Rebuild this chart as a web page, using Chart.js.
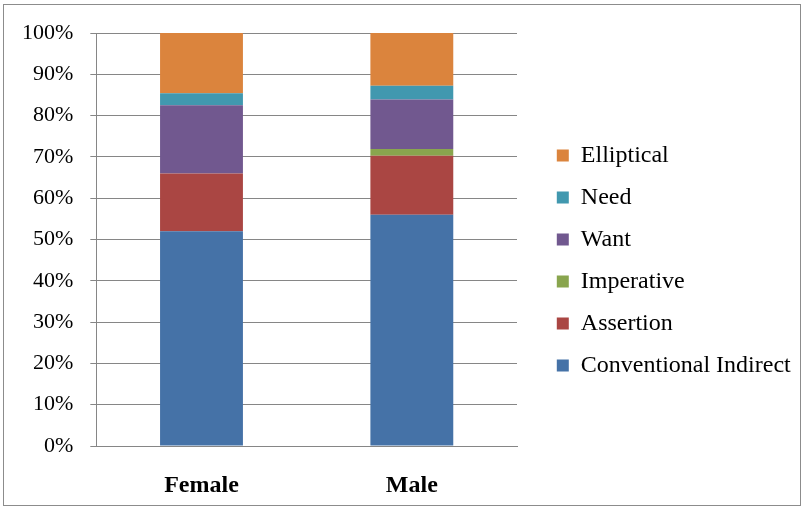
<!DOCTYPE html>
<html>
<head>
<meta charset="utf-8">
<script src="https://cdn.jsdelivr.net/npm/chart.js@4/dist/chart.umd.min.js"></script>
<style>
html,body{margin:0;padding:0;background:#fff;}
#wrap{position:relative;width:804px;height:508px;}
#frame{position:absolute;left:3px;top:4px;width:796px;height:500px;border:1px solid #8c8c8c;pointer-events:none;}
canvas{position:absolute;left:0;top:0;}
</style>
</head>
<body>
<div id="wrap">
<canvas id="c" width="804" height="508"></canvas>
<div id="frame"></div>
</div>
<script>
const categories = ["Female", "Male"];
const seriesNames = ["Conventional Indirect", "Assertion", "Imperative", "Want", "Need", "Elliptical"];
const conventionalIndirect = [52.0, 56.0];
const assertion = [14.0, 14.3];
const imperative = [0.0, 1.6];
const want = [16.5, 12.0];
const need = [2.9, 3.3];
const elliptical = [14.6, 12.8];
const yTicks = [0, 10, 20, 30, 40, 50, 60, 70, 80, 90, 100];
const colors = ["#4572A7", "#AA4643", "#89A54E", "#71588F", "#4198AF", "#DB843D"];

const values = [conventionalIndirect, assertion, imperative, want, need, elliptical];
const datasets = seriesNames.map((n, i) => ({
  label: n,
  data: values[i],
  backgroundColor: colors[i],
  borderWidth: 0,
  barPercentage: 0.394,
  categoryPercentage: 1.0
}));

const serif = "'Liberation Serif', 'Times New Roman', serif";

const legendShift = {
  id: 'legendShift',
  afterLayout(chart) {
    const lg = chart.legend;
    if (lg) { lg.top -= 10; lg.bottom -= 10; }
  }
};

const chart = new Chart(document.getElementById('c'), {
  type: 'bar',
  data: { labels: categories, datasets },
  plugins: [legendShift],
  options: {
    responsive: false,
    animation: false,
    layout: { padding: { top: 33, left: 5, right: 0, bottom: 0 } },
    plugins: {
      legend: {
        position: 'right',
        reverse: true,
        labels: {
          boxWidth: 12, boxHeight: 12,
          padding: 18,
          color: '#000',
          font: { family: serif, size: 24 }
        }
      },
      tooltip: { enabled: false }
    },
    scales: {
      x: {
        stacked: true,
        grid: { display: false, drawTicks: false },
        border: { display: true, color: '#868686', width: 1 },
        ticks: { color: '#000', padding: 29, font: { family: serif, size: 24, weight: 'bold', lineHeight: 0.9 } },
        afterFit: (s) => { s.height = 62; }
      },
      y: {
        stacked: true,
        min: 0, max: 100,
        afterBuildTicks: (s) => { s.ticks = yTicks.map(v => ({ value: v })); },
        grid: { color: '#868686', lineWidth: 1, tickLength: 6 },
        border: { display: true, color: '#868686', width: 1 },
        ticks: { color: '#000', padding: 17, font: { family: serif, size: 22 }, callback: v => v + '%' }
      },
      y2: {
        position: 'right',
        display: true,
        grid: { display: false, drawTicks: false },
        border: { display: false },
        ticks: { display: false },
        afterFit: (s) => { s.width = 21.8; }
      }
    }
  }
});
const origFit = chart.legend.fit.bind(chart.legend);
chart.legend.fit = function () { origFit(); this.width = 265.2; };
chart.update();
</script>
</body>
</html>
